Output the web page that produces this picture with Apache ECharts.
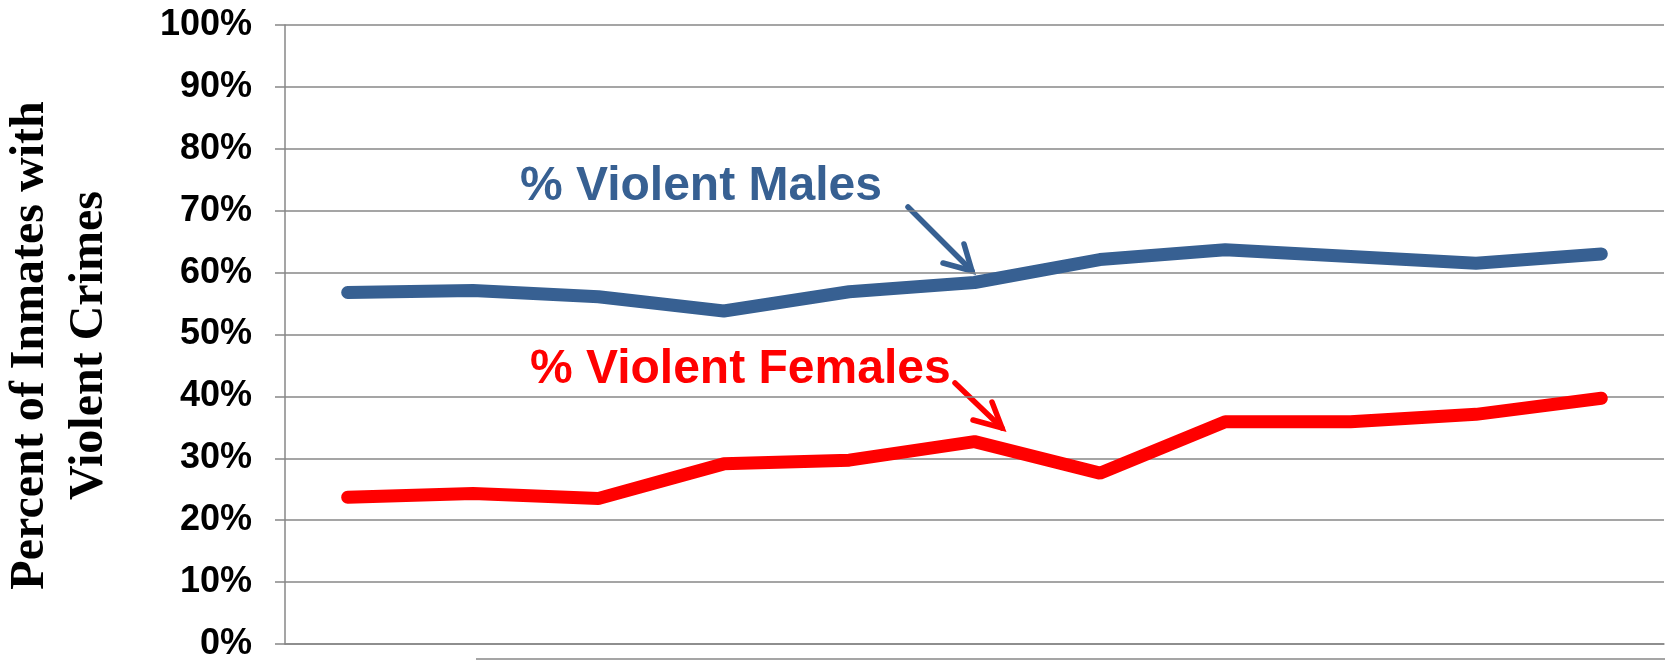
<!DOCTYPE html>
<html>
<head>
<meta charset="utf-8">
<script src="https://cdn.jsdelivr.net/npm/echarts@6/dist/echarts.min.js"></script>
<style>
  html, body { margin: 0; padding: 0; background: #fff; }
  #chart { width: 1665px; height: 661px; }
</style>
</head>
<body>
<div id="chart"></div>
<script>
// Categories (x labels are cut off in the source picture)
const periods = ['1', '2', '3', '4', '5', '6', '7', '8', '9', '10', '11']

// Percent of inmates with violent crimes
const violentMales = [56.8, 57.1, 56.1, 53.8, 56.9, 58.4, 62.1, 63.7, 62.6, 61.5, 63.0]
const violentFemales = [23.7, 24.3, 23.5, 29.1, 29.7, 32.7, 27.6, 35.9, 35.9, 37.1, 39.7]

const MALE_COLOR = '#376092'
const FEMALE_COLOR = '#ff0000'
const GRID_COLOR = '#878787'

const chart = echarts.init(document.getElementById('chart'))

// Arrow made of a shaft and an open head
const arrow = (from, tip, headA, headB, color) => ([
  {
    type: 'line',
    shape: { x1: from[0], y1: from[1], x2: tip[0], y2: tip[1] },
    style: { stroke: color, lineWidth: 5.5, lineCap: 'round' }
  },
  {
    type: 'polyline',
    shape: { points: [headA, tip, headB] },
    style: { stroke: color, lineWidth: 5.5, lineCap: 'round', lineJoin: 'miter', fill: null }
  }
])

chart.setOption({
  animation: false,
  grid: { left: 285, right: 1, top: 25, bottom: 17, containLabel: false, outerBoundsMode: 'none' },
  xAxis: {
    type: 'category',
    data: periods,
    boundaryGap: true,
    axisLine: { show: true, lineStyle: { color: GRID_COLOR, width: 1.5 } },
    axisTick: { show: false },
    axisLabel: { show: false }
  },
  yAxis: {
    type: 'value',
    min: 0,
    max: 100,
    interval: 10,
    name: 'Percent of Inmates with\nViolent Crimes',
    nameLocation: 'middle',
    nameGap: 166,
    nameTextStyle: {
      fontFamily: '"Liberation Serif", "Times New Roman", serif',
      fontWeight: 'bold',
      fontSize: 48,
      color: '#000',
      lineHeight: 59,
      padding: [0, 22, 0, 0]
    },
    axisLine: { show: true, lineStyle: { color: GRID_COLOR, width: 1.5 } },
    axisTick: { show: true, inside: false, length: 10, lineStyle: { color: GRID_COLOR, width: 1.5 } },
    splitLine: { show: true, lineStyle: { color: GRID_COLOR, width: 1.5 } },
    axisLabel: {
      formatter: '{value}%',
      margin: 33,
      fontFamily: '"Liberation Sans", Arial, sans-serif',
      fontWeight: 'bold',
      fontSize: 36,
      color: '#000'
    }
  },
  series: [
    {
      name: '% Violent Males',
      type: 'line',
      data: violentMales,
      showSymbol: false,
      lineStyle: { color: MALE_COLOR, width: 13, cap: 'round' },
      itemStyle: { color: MALE_COLOR }
    },
    {
      name: '% Violent Females',
      type: 'line',
      data: violentFemales,
      showSymbol: false,
      lineStyle: { color: FEMALE_COLOR, width: 13, cap: 'round' },
      itemStyle: { color: FEMALE_COLOR }
    }
  ],
  graphic: [
    {
      type: 'text',
      left: 520,
      top: 163,
      style: {
        text: '% Violent Males',
        font: 'bold 48px "Liberation Sans", Arial, sans-serif',
        fill: MALE_COLOR
      }
    },
    {
      type: 'text',
      left: 530,
      top: 346,
      style: {
        text: '% Violent Females',
        font: 'bold 48px "Liberation Sans", Arial, sans-serif',
        fill: FEMALE_COLOR
      }
    },
    ...arrow([908, 207], [972, 271], [943, 263], [964, 244], MALE_COLOR),
    ...arrow([955, 383], [1002, 428], [973, 420], [992, 402], FEMALE_COLOR),
    // stray line at the very bottom of the picture
    {
      type: 'line',
      shape: { x1: 476, y1: 659, x2: 1665, y2: 659 },
      style: { stroke: GRID_COLOR, lineWidth: 1.5 }
    }
  ]
})

window.addEventListener('resize', () => chart.resize())
</script>
</body>
</html>
